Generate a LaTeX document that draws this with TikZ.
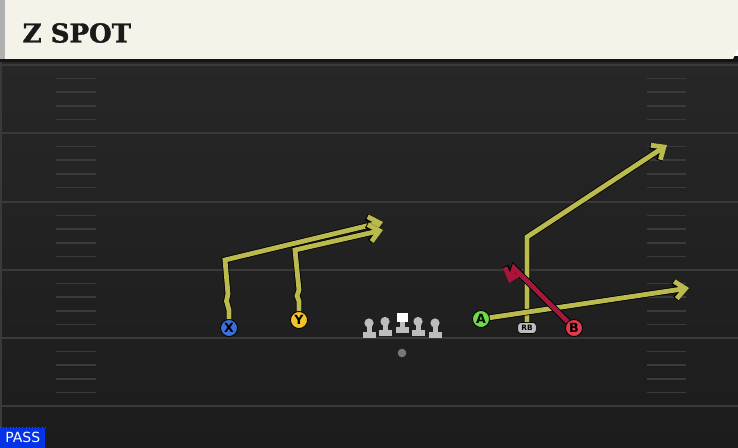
\documentclass[tikz,border=0pt]{standalone}
\usepackage{fontspec}
\usetikzlibrary{arrows.meta}
\newfontfamily\titlefont{DejaVu Serif}[BoldFeatures={FakeBold=1.5}]
\newfontfamily\tagfont{DejaVu Sans}
\definecolor{headcream}{HTML}{F5F2EA}
\definecolor{fieldtop}{HTML}{272727}
\definecolor{fieldbot}{HTML}{1C1C1C}
\definecolor{fieldln}{HTML}{3A3A3A}
\definecolor{routeyel}{HTML}{BABA4E}
\definecolor{routered}{HTML}{A8173A}
\definecolor{xblue}{HTML}{3C6FD8}
\definecolor{yyellow}{HTML}{F2C42A}
\definecolor{agreen}{HTML}{6CDB48}
\definecolor{bred}{HTML}{E33A4C}
\definecolor{olgray}{HTML}{BDBDBD}
\definecolor{passblue}{HTML}{0433E8}

\begin{document}
\begin{tikzpicture}[x=0.75pt,y=0.75pt,yscale=-1,xscale=1,
  route/.style={draw=routeyel, line width=3.6pt, line join=miter, -{Straight Barb[length=7.5pt,width=13pt]}, preaction={draw=black, line width=4.8pt}},
  redroute/.style={route, draw=routered},
  player/.style={circle, draw=black, line width=0.6pt, minimum size=12.75pt, inner sep=0pt, text=black, font=\tagfont\bfseries\fontsize{9.5}{9.5}\selectfont},
  hashline/.style={draw=fieldln, line width=1.1pt},
  yardline/.style={draw=fieldln, line width=1.5pt}]
%uncomment if require: \path (0,448); %set diagram left start at 0, and has height of 448
\useasboundingbox (0,0) rectangle (738,448);

%Shape: Field [id:fieldbg]
\shade [top color=fieldtop, bottom color=fieldbot] (0,58) rectangle (738,448);
\draw [color=fieldln, line width=0.8pt] (1,62) -- (1,448) ;
%Straight Lines: yard lines and hashes
\foreach \yl in {65,133,202,270,338,406} {
  \draw [yardline] (0,\yl) -- (738,\yl) ;
}
\foreach \yl in {65,133,202,270,338} {
  \foreach \k in {1,...,4} {
    \draw [hashline] (56,\yl+13.6*\k) -- (96,\yl+13.6*\k) ;
    \draw [hashline] (647,\yl+13.6*\k) -- (686,\yl+13.6*\k) ;
  }
}

%Shape: Header [id:header]
\fill [color={rgb, 255:red, 20; green, 20; blue, 20 }] (0,56) rectangle (738,62) ;
\fill [color={rgb, 255:red, 176; green, 176; blue, 176 }] (0,0) rectangle (5,59) ;
\fill [headcream] (5,0) -- (738,0) -- (738,48) -- (733,59) -- (5,59) -- cycle ;
% Text Node
\node (title) [anchor=west, text={rgb, 255:red, 26; green, 26; blue, 26 }, font=\titlefont\bfseries\fontsize{19.5}{19.5}\selectfont] at (18,33) {Z SPOT};

%Shape: Linemen
\foreach \lx/\dy in {369/0,385/-1.5,418/-1.5,435/0} {
  \fill [olgray] (\lx,323+\dy) circle [radius=4.6] ;
  \fill [olgray] (\lx-2.5,324+\dy) rectangle (\lx+2.5,333+\dy) ;
  \fill [olgray] (\lx-6.5,332+\dy) rectangle (\lx+6.5,338+\dy) ;
}
\fill [white] (396.5,313) rectangle (407.5,322.5) ;
\fill [olgray] (399.5,322) rectangle (404.5,328) ;
\fill [olgray] (395.5,327) rectangle (408.5,333) ;
%Shape: Ball
\fill [color={rgb, 255:red, 120; green, 120; blue, 120 }] (402,353) circle [radius=4.3] ;

% Text Node
\node (X) [player, fill=xblue] at (229,328) {X};
\node (Y) [player, fill=yyellow] at (299,320) {Y};
\node (A) [player, fill=agreen] at (481,319) {A};
\node (B) [player, fill=bred] at (574,328) {B};
\node (RB) [draw=black, line width=0.5pt, fill=olgray, rounded corners=2.5pt, minimum width=14pt, minimum height=8.2pt, inner sep=0pt, font=\tagfont\bfseries\fontsize{5.5}{5.5}\selectfont] at (527,328) {RB};

%Straight Lines: route points
\coordinate (x1) at (229,310) ;
\coordinate (x2) at (226.5,301) ;
\coordinate (x3) at (228,294) ;
\coordinate (x4) at (225,260) ;
\coordinate (xend) at (383,222) ;
\coordinate (y1) at (299,301) ;
\coordinate (y2) at (297,296) ;
\coordinate (y3) at (299,290) ;
\coordinate (y4) at (295,250) ;
\coordinate (yend) at (383,230) ;
\coordinate (rb1) at (527,237) ;
\coordinate (rbend) at (667,145) ;
\coordinate (aend) at (689,288) ;
\coordinate (b1) at (514,268) ;
\coordinate (bend) at (509,283) ;

\draw [route] (X) -- (x1) -- (x2) -- (x3) -- (x4) -- (xend) ;
\draw [route] (Y) -- (y1) -- (y2) -- (y3) -- (y4) -- (yend) ;
\draw [route] (RB) -- (rb1) -- (rbend) ;
\draw [route] (A) -- (aend) ;
\draw [redroute] (B) -- (b1) -- (bend) ;

% Text Node
\draw [color={rgb, 255:red, 90; green, 90; blue, 90 }, dotted] (0,427) -- (45,427) ;
\node (pass) [anchor=south west, fill=passblue, text=white, minimum width=33.75pt, minimum height=15pt, inner sep=1pt, font=\tagfont\fontsize{10.5}{10.5}\selectfont] at (0,448) {PASS};

\end{tikzpicture}
\end{document}
